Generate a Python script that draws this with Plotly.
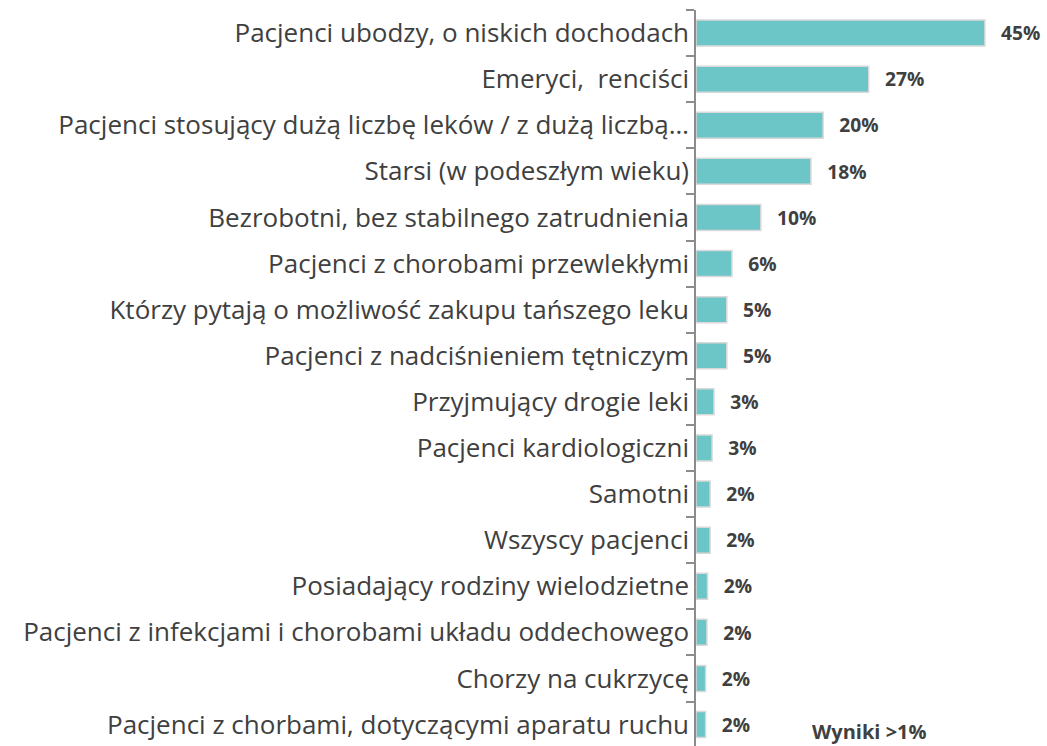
import plotly.graph_objects as go

categories = [
    "Pacjenci ubodzy, o niskich dochodach",
    "Emeryci,\u00a0 renciści",
    "Pacjenci stosujący dużą liczbę leków / z dużą liczbą…",
    "Starsi (w podeszłym wieku)",
    "Bezrobotni, bez stabilnego zatrudnienia",
    "Pacjenci z chorobami przewlekłymi",
    "Którzy pytają o możliwość zakupu tańszego leku",
    "Pacjenci z nadciśnieniem tętniczym",
    "Przyjmujący drogie leki",
    "Pacjenci kardiologiczni",
    "Samotni",
    "Wszyscy pacjenci",
    "Posiadający rodziny wielodzietne",
    "Pacjenci z infekcjami i chorobami układu oddechowego",
    "Chorzy na cukrzycę",
    "Pacjenci z chorbami, dotyczącymi aparatu ruchu",
]
values = [45.0, 26.9, 19.8, 17.9, 10.1, 5.6, 4.8, 4.8, 2.8, 2.5,
          2.2, 2.2, 1.8, 1.7, 1.5, 1.5]
labels = ["45%", "27%", "20%", "18%", "10%", "6%", "5%", "5%", "3%", "3%",
          "2%", "2%", "2%", "2%", "2%", "2%"]
note = "Wyniki >1%"

W, H = 1047, 746
ML, MR, MT, MB = 696, 0, 10, 0

fig = go.Figure()
fig.add_trace(go.Bar(
    x=values,
    y=categories,
    orientation="h",
    marker=dict(color="#6CC5C6", line=dict(color="#D9D9D9", width=1.5)),
    text=["\u00a0\u00a0\u2009" + t for t in labels],
    textposition="outside",
    cliponaxis=False,
    textfont=dict(family="Open Sans", size=20, color="#404040", weight="bold"),
    hoverinfo="skip",
))

row_px = 46.1
plot_h = H - MT - MB

fig.update_layout(
    width=W,
    height=H,
    margin=dict(l=ML, r=MR, t=MT, b=MB, pad=0),
    plot_bgcolor="white",
    paper_bgcolor="white",
    bargap=0.436,
    showlegend=False,
    xaxis=dict(range=[0, (W - ML - MR) / 6.42], visible=False, fixedrange=True),
    yaxis=dict(
        range=[-0.5 + plot_h / row_px, -0.5],
        showline=True,
        linecolor="#8C8C8C",
        linewidth=1.5,
        ticks="outside",
        ticklen=8,
        tickcolor="#8C8C8C",
        tickwidth=1.5,
        tickson="boundaries",
        automargin=False,
        tickfont=dict(family="Open Sans", size=26, color="#404040"),
        showgrid=False,
        fixedrange=True,
    ),
    annotations=[dict(
        text="<b>" + note + "</b>",
        x=(869.5 - ML) / (W - ML - MR),
        y=(H - MB - 731) / plot_h,
        xref="paper", yref="paper",
        xanchor="center", yanchor="middle",
        showarrow=False,
        font=dict(family="Open Sans", size=20, color="#404040"),
    )],
)

fig.write_html(
    "out.html",
    config={"displayModeBar": False},
    post_script="document.body.style.margin='0';document.body.style.overflow='hidden';",
)
